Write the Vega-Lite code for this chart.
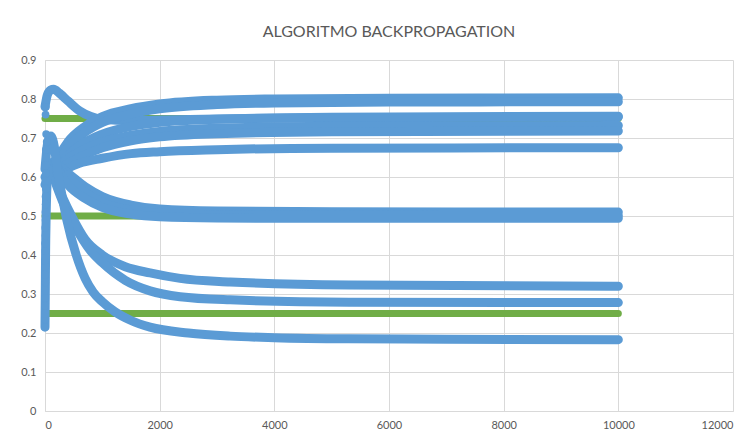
{
  "$schema": "https://vega.github.io/schema/vega-lite/v6.json",
  "width": 688,
  "height": 351,
  "autosize": "none",
  "padding": {"left": 45, "top": 60, "right": 15, "bottom": 30},
  "background": "white",
  "title": {
    "text": "ALGORITMO BACKPROPAGATION",
    "font": "Lato",
    "fontSize": 16,
    "fontWeight": "normal",
    "color": "#595959",
    "anchor": "middle",
    "offset": 1,
    "baseline": "alphabetic"
  },
  "config": {
    "view": {"stroke": null},
    "axis": {
      "labelFont": "Lato",
      "labelFontSize": 11,
      "labelColor": "#595959",
      "gridColor": "#d9d9d9",
      "gridWidth": 1,
      "domainColor": "#d9d9d9",
      "ticks": false,
      "title": null
    }
  },
  "datasets": {
    "blue": [
      {"s":"A","x":0,"y":0.78},{"s":"A","x":40,"y":0.81},{"s":"A","x":100,"y":0.823},{"s":"A","x":150,"y":0.825},{"s":"A","x":250,"y":0.815},{"s":"A","x":400,"y":0.795},{"s":"A","x":600,"y":0.77},{"s":"A","x":800,"y":0.755},{"s":"A","x":1000,"y":0.748},{"s":"A","x":1500,"y":0.745},{"s":"A","x":2000,"y":0.746},{"s":"A","x":3000,"y":0.749},{"s":"A","x":5000,"y":0.752},{"s":"A","x":10000,"y":0.754},
      {"s":"B1","x":100,"y":0.6},{"s":"B1","x":200,"y":0.64},{"s":"B1","x":400,"y":0.69},{"s":"B1","x":700,"y":0.73},{"s":"B1","x":1000,"y":0.755},{"s":"B1","x":1500,"y":0.775},{"s":"B1","x":2000,"y":0.787},{"s":"B1","x":3000,"y":0.797},{"s":"B1","x":4000,"y":0.8},{"s":"B1","x":6000,"y":0.802},{"s":"B1","x":10000,"y":0.803},
      {"s":"B2","x":100,"y":0.6},{"s":"B2","x":200,"y":0.63},{"s":"B2","x":400,"y":0.675},{"s":"B2","x":700,"y":0.715},{"s":"B2","x":1000,"y":0.74},{"s":"B2","x":1500,"y":0.762},{"s":"B2","x":2000,"y":0.775},{"s":"B2","x":3000,"y":0.786},{"s":"B2","x":4000,"y":0.79},{"s":"B2","x":6000,"y":0.792},{"s":"B2","x":10000,"y":0.793},
      {"s":"C","x":100,"y":0.6},{"s":"C","x":300,"y":0.64},{"s":"C","x":600,"y":0.68},{"s":"C","x":1000,"y":0.71},{"s":"C","x":1500,"y":0.73},{"s":"C","x":2000,"y":0.74},{"s":"C","x":3000,"y":0.748},{"s":"C","x":5000,"y":0.753},{"s":"C","x":10000,"y":0.756},
      {"s":"G1","x":100,"y":0.6},{"s":"G1","x":300,"y":0.635},{"s":"G1","x":600,"y":0.665},{"s":"G1","x":1000,"y":0.69},{"s":"G1","x":1500,"y":0.707},{"s":"G1","x":2000,"y":0.717},{"s":"G1","x":3000,"y":0.725},{"s":"G1","x":5000,"y":0.73},{"s":"G1","x":10000,"y":0.732},
      {"s":"G2","x":100,"y":0.6},{"s":"G2","x":300,"y":0.625},{"s":"G2","x":600,"y":0.65},{"s":"G2","x":1000,"y":0.675},{"s":"G2","x":1500,"y":0.693},{"s":"G2","x":2000,"y":0.703},{"s":"G2","x":3000,"y":0.711},{"s":"G2","x":5000,"y":0.716},{"s":"G2","x":10000,"y":0.718},
      {"s":"F","x":100,"y":0.6},{"s":"F","x":300,"y":0.615},{"s":"F","x":600,"y":0.635},{"s":"F","x":1000,"y":0.648},{"s":"F","x":1500,"y":0.66},{"s":"F","x":2000,"y":0.665},{"s":"F","x":3000,"y":0.67},{"s":"F","x":5000,"y":0.674},{"s":"F","x":10000,"y":0.675},
      {"s":"E1","x":0,"y":0.6},{"s":"E1","x":200,"y":0.63},{"s":"E1","x":400,"y":0.61},{"s":"E1","x":700,"y":0.575},{"s":"E1","x":1000,"y":0.55},{"s":"E1","x":1500,"y":0.528},{"s":"E1","x":2000,"y":0.518},{"s":"E1","x":3000,"y":0.513},{"s":"E1","x":5000,"y":0.511},{"s":"E1","x":10000,"y":0.51},
      {"s":"E2","x":0,"y":0.58},{"s":"E2","x":200,"y":0.62},{"s":"E2","x":400,"y":0.6},{"s":"E2","x":700,"y":0.56},{"s":"E2","x":1000,"y":0.535},{"s":"E2","x":1500,"y":0.515},{"s":"E2","x":2000,"y":0.507},{"s":"E2","x":3000,"y":0.503},{"s":"E2","x":5000,"y":0.502},{"s":"E2","x":10000,"y":0.501},
      {"s":"E3","x":150,"y":0.64},{"s":"E3","x":400,"y":0.58},{"s":"E3","x":700,"y":0.545},{"s":"E3","x":1000,"y":0.522},{"s":"E3","x":1500,"y":0.505},{"s":"E3","x":2000,"y":0.498},{"s":"E3","x":3000,"y":0.495},{"s":"E3","x":5000,"y":0.494},{"s":"E3","x":10000,"y":0.494},
      {"s":"D1","x":100,"y":0.62},{"s":"D1","x":300,"y":0.55},{"s":"D1","x":465,"y":0.5},{"s":"D1","x":700,"y":0.44},{"s":"D1","x":1000,"y":0.4},{"s":"D1","x":1400,"y":0.37},{"s":"D1","x":1832,"y":0.354},{"s":"D1","x":2356,"y":0.34},{"s":"D1","x":3230,"y":0.331},{"s":"D1","x":5300,"y":0.323},{"s":"D1","x":10000,"y":0.32},
      {"s":"D2","x":100,"y":0.62},{"s":"D2","x":300,"y":0.54},{"s":"D2","x":500,"y":0.48},{"s":"D2","x":800,"y":0.41},{"s":"D2","x":1000,"y":0.38},{"s":"D2","x":1400,"y":0.335},{"s":"D2","x":1832,"y":0.308},{"s":"D2","x":2356,"y":0.293},{"s":"D2","x":3230,"y":0.285},{"s":"D2","x":5300,"y":0.279},{"s":"D2","x":10000,"y":0.278},
      {"s":"D3","x":0,"y":0.62},{"s":"D3","x":50,"y":0.69},{"s":"D3","x":100,"y":0.705},{"s":"D3","x":160,"y":0.68},{"s":"D3","x":215,"y":0.62},{"s":"D3","x":300,"y":0.55},{"s":"D3","x":380,"y":0.49},{"s":"D3","x":545,"y":0.4},{"s":"D3","x":700,"y":0.34},{"s":"D3","x":840,"y":0.305},{"s":"D3","x":1000,"y":0.28},{"s":"D3","x":1213,"y":0.255},{"s":"D3","x":1500,"y":0.232},{"s":"D3","x":1832,"y":0.215},{"s":"D3","x":2500,"y":0.2},{"s":"D3","x":3230,"y":0.192},{"s":"D3","x":4000,"y":0.188},{"s":"D3","x":5300,"y":0.185},{"s":"D3","x":7000,"y":0.184},{"s":"D3","x":10000,"y":0.183},
      {"s":"H","x":0,"y":0.215},{"s":"H","x":5,"y":0.3},{"s":"H","x":10,"y":0.4},{"s":"H","x":20,"y":0.5},{"s":"H","x":35,"y":0.58},{"s":"H","x":60,"y":0.62}
    ],
    "dots": [
      {"x":0,"y":0.215},{"x":0,"y":0.235},{"x":2,"y":0.25},{"x":0,"y":0.27},{"x":3,"y":0.29},{"x":0,"y":0.31},{"x":4,"y":0.33},{"x":0,"y":0.35},{"x":5,"y":0.37},{"x":0,"y":0.385},{"x":6,"y":0.41},{"x":3,"y":0.43},{"x":8,"y":0.45},{"x":5,"y":0.47},{"x":10,"y":0.49},{"x":8,"y":0.51},{"x":12,"y":0.53},{"x":10,"y":0.55},{"x":15,"y":0.57},{"x":5,"y":0.59},{"x":20,"y":0.61},{"x":10,"y":0.63},{"x":25,"y":0.65},{"x":15,"y":0.67},{"x":30,"y":0.69},{"x":20,"y":0.71},{"x":10,"y":0.76},{"x":15,"y":0.78},{"x":25,"y":0.8}
    ],
    "green": [
      {"s":"g1","x":0,"y":0.25},{"s":"g1","x":10000,"y":0.25},
      {"s":"g2","x":0,"y":0.5},{"s":"g2","x":10000,"y":0.5},
      {"s":"g3","x":0,"y":0.75},{"s":"g3","x":10000,"y":0.75}
    ]
  },
  "encoding": {
    "x": {
      "field": "x", "type": "quantitative",
      "scale": {"domain": [0, 12000], "nice": false},
      "axis": {"values": [0,2000,4000,6000,8000,10000,12000], "format": "d", "labelPadding": 8}
    },
    "y": {
      "field": "y", "type": "quantitative",
      "scale": {"domain": [0, 0.9], "nice": false},
      "axis": {"values": [0,0.1,0.2,0.3,0.4,0.5,0.6,0.7,0.8,0.9], "format": "~g", "labelPadding": 9}
    }
  },
  "layer": [
    {
      "data": {"name": "green"},
      "mark": {"type": "line", "color": "#70AD47", "strokeWidth": 7, "strokeCap": "round"},
      "encoding": {"detail": {"field": "s"}}
    },
    {
      "data": {"name": "blue"},
      "mark": {"type": "line", "color": "#5B9BD5", "strokeWidth": 9, "strokeCap": "round", "strokeJoin": "round", "interpolate": "monotone"},
      "encoding": {"detail": {"field": "s"}}
    },
    {
      "data": {"name": "dots"},
      "mark": {"type": "point", "shape": "circle", "filled": true, "color": "#5B9BD5", "opacity": 1, "size": 60},
      "encoding": {}
    }
  ]
}
